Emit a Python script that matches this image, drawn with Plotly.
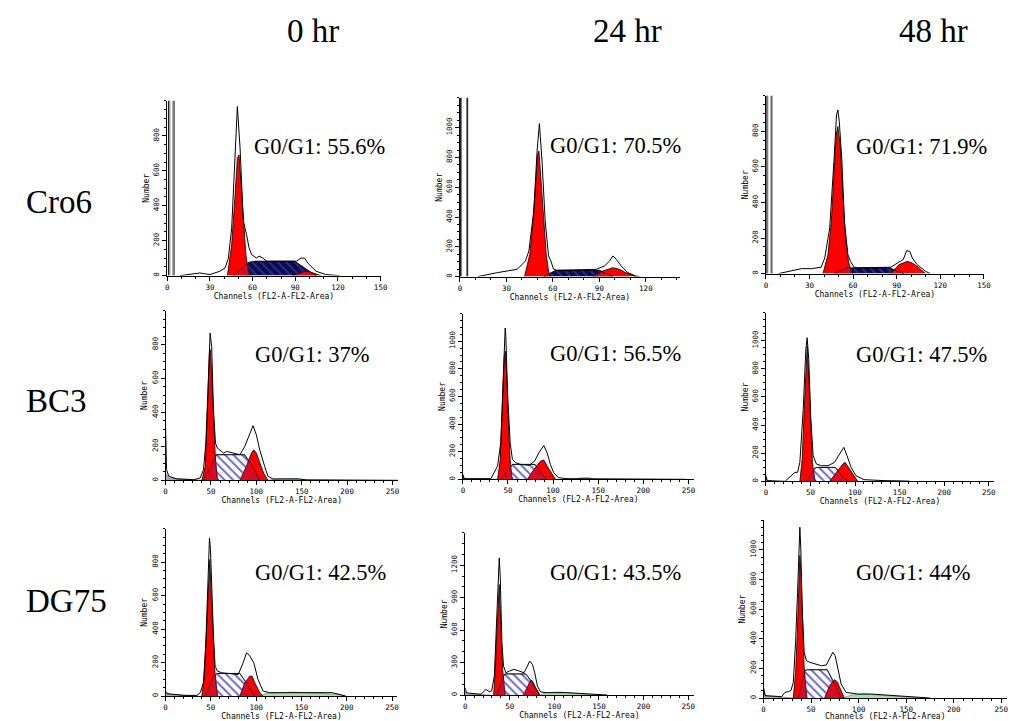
import plotly.graph_objects as go

# ------------------------------------------------------------------ labels
COL_LABELS = ["0 hr", "24 hr", "48 hr"]
ROW_LABELS = ["Cro6", "BC3", "DG75"]
G1_TEXT = ["G0/G1: 55.6%", "G0/G1: 70.5%", "G0/G1: 71.9%",
           "G0/G1: 37%", "G0/G1: 56.5%", "G0/G1: 47.5%",
           "G0/G1: 42.5%", "G0/G1: 43.5%", "G0/G1: 44%"]
X_TITLE = "Channels (FL2-A-FL2-Area)"
Y_TITLE = "Number"

# ------------------------------------------------------------------ data (channel, count)
# Cro6 0 hr
CRO6_0_RAW = [(9, 0), (18.6, 10), (23, 15), (30, 6), (37, 25), (40.7, 44), (43, 100), (45.3, 272), (47.7, 653),
              (48.8, 882), (49.3, 968), (51.2, 730), (53.5, 310), (55.8, 234), (57.5, 160), (59.3, 120), (62.8, 100),
              (64.5, 112), (67.4, 100), (70, 82), (79, 82), (90.7, 82), (94, 100), (96.5, 100), (98.8, 72),
              (104.6, 25), (111.6, 6), (121, 0)]
CRO6_0_G1 = [(42.3, 0), (45.3, 177), (47.7, 463), (49.3, 672), (50.5, 691), (52.3, 463), (54, 272), (55.3, 120),
             (57, 25), (58, 0)]
CRO6_0_S = [(46.5, 0), (52, 35), (57, 75), (62, 82), (89.5, 82), (96, 45), (103.5, 5), (105, 0)]
CRO6_0_G2 = [(88, 0), (92, 10), (97, 25), (100, 22), (104, 10), (108, 0)]
CRO6_0_BAR = [(1.0, 4.8), (1.8, 4.0)]

# Cro6 24 hr
CRO6_24_RAW = [(11.5, 0), (17.9, 16), (24.3, 27), (30.6, 38), (37, 49), (42.3, 105), (44.5, 172), (47.7, 440),
               (49.8, 843), (51.3, 1027), (53, 776), (55, 374), (57.2, 139), (58.7, 105), (60.4, 50), (62.5, 42),
               (77.4, 45), (88, 49), (93.4, 72), (96.6, 105), (98.7, 139), (100.9, 116), (104, 72), (108.3, 27),
               (113.6, 4), (116, 0)]
CRO6_24_G1 = [(41.7, 0), (45.1, 150), (47.2, 374), (48.9, 642), (50.2, 821), (51, 843), (52.3, 664), (54, 374),
              (55.7, 150), (57.2, 38), (58.3, 0)]
CRO6_24_S = [(54, 0), (60.4, 38), (62, 42), (90, 42), (94, 25), (98.7, 0)]
CRO6_24_G2 = [(86, 0), (92.3, 38), (98.7, 60), (103, 49), (107, 27), (113.6, 0)]
CRO6_24_BAR = [(0.3, 5.0), (1.0, 4.3)]

# Cro6 48 hr
CRO6_48_RAW = [(8.6, 0), (15.5, 13), (24.5, 28), (31.4, 28), (38, 36), (40.5, 88), (43.9, 257), (46.8, 631),
               (48.6, 893), (49.5, 921), (50.5, 856), (52.3, 631), (54, 294), (56.4, 107), (58.2, 69), (61, 32),
               (76.8, 32), (86, 36), (90.5, 60), (94.5, 79), (96.8, 129), (99, 125), (100.7, 88), (104, 51),
               (109.8, 13), (113, 0)]
CRO6_48_G1 = [(39.3, 0), (42.7, 107), (45, 294), (46.8, 537), (48.4, 781), (49.5, 828), (51.1, 725), (53, 444),
              (54.8, 200), (56.8, 69), (58.6, 13), (59.8, 0)]
CRO6_48_S = [(47.3, 0), (54, 28), (56, 32), (85, 32), (88, 22), (95, 0)]
CRO6_48_G2 = [(86, 0), (91.6, 51), (97.3, 69), (100.7, 60), (104, 41), (109.8, 0)]
CRO6_48_BAR = [(0.7, 4.1), (1.3, 3.5)]

# BC3 0 hr
BC3_0_RAW = [(0, 327), (0.5, 150), (1.1, 63), (3.6, 24), (12.7, 8), (31, 4), (38.2, 14), (41.8, 63), (44.4, 220),
             (46.6, 514), (48.4, 827), (49.1, 867), (50.8, 788), (52.8, 416), (55, 220), (57.1, 190), (61.9, 170),
             (64, 160), (67.3, 170), (74.6, 161), (81.9, 151), (87.3, 200), (92.8, 278), (96.4, 322), (100, 269),
             (103.7, 180), (109.2, 82), (112.8, 24), (118.3, 8), (147.4, 8), (154.7, 3), (256, 0)]
BC3_0_G1 = [(40, 0), (43.7, 82), (45.5, 318), (47.3, 612), (48.4, 759), (49.5, 769), (50.9, 612), (52.8, 337),
            (55, 122), (57.1, 14), (58.6, 0)]
BC3_0_S = [(41.8, 0), (50, 80), (56, 151), (87, 151), (95, 90), (103.7, 0)]
BC3_0_G2 = [(81.9, 0), (89, 82), (94.6, 161), (97.2, 180), (100, 161), (103.7, 102), (108, 43), (112.8, 0)]
BC3_0_DEB = [(0, 0), (0, 43), (3.6, 14), (27, 4), (40, 0)]
BC3_0_AGG = [(111, 0), (118, 6), (125.5, 10), (143.7, 10), (151, 4), (155, 0)]

# BC3 24 hr
BC3_24_RAW = [(0, 36), (1, 5), (31, 5), (34.8, 48), (38.5, 96), (42, 265), (44.7, 746), (46.5, 1083), (46.9, 1095),
              (47.6, 1035), (49.5, 626), (52.4, 265), (54.9, 144), (58.6, 120), (64, 108), (73.3, 101), (79.5, 132),
              (84.2, 192), (89.7, 245), (93.4, 192), (97, 108), (100.7, 48), (106, 12), (115.4, 5), (181, 5),
              (247, 0)]
BC3_24_G1 = [(38.5, 0), (41.4, 144), (43.6, 505), (45.8, 890), (47.3, 927), (48.7, 746), (50.5, 385), (52.4, 144),
             (54.2, 24), (55.3, 0)]
BC3_24_S = [(42, 0), (53, 96), (55, 108), (80, 108), (86, 48), (93.4, 0)]
BC3_24_G2 = [(71.4, 0), (78.8, 72), (86, 132), (89.7, 140), (93.4, 96), (99, 36), (102.6, 0)]
BC3_24_DEB = [(0, 0), (0, 30), (2, 8), (6, 0)]
BC3_24_AGG = [(125, 0), (130, 12), (141, 12), (145, 0)]

# BC3 48 hr
BC3_48_RAW = [(0, 40), (1.5, 5), (21.5, 0), (28.9, 40), (32.6, 64), (35.6, 64), (38.1, 135), (41.9, 513),
              (44.8, 939), (46.3, 1021), (48.1, 868), (50.4, 442), (53, 182), (56.7, 123), (62.2, 111), (69.6, 111),
              (77, 135), (82.6, 194), (87.4, 241), (91, 182), (95.6, 99), (101, 40), (110, 12), (132.6, 5),
              (162, 0)]
BC3_48_G1 = [(38.1, 0), (40.7, 158), (43, 513), (45.2, 867), (46.3, 962), (48.1, 749), (50, 395), (52.2, 135),
             (54.8, 17), (55.9, 0)]
BC3_48_S = [(45.5, 0), (54.8, 92), (57, 99), (78, 99), (84, 50), (91.8, 0)]
BC3_48_G2 = [(71.5, 0), (78.9, 64), (86.3, 123), (88.9, 135), (93.7, 87), (99.3, 28), (103, 0)]
BC3_48_DEB = [(0, 0), (0, 35), (1.5, 5), (10, 0)]
BC3_48_AGG = [(120, 0), (128, 5), (155, 5), (162, 0)]

# DG75 0 hr
DG75_0_RAW = [(0, 24), (1.8, 14), (20, 4), (34.6, 4), (38.3, 20), (41.9, 80), (44.5, 318), (46.3, 597), (47.8, 915),
              (48.5, 945), (49.6, 876), (51, 617), (52.9, 358), (54.7, 179), (57.3, 149), (62, 139), (71.1, 135),
              (80.2, 129), (85.7, 199), (89.4, 259), (93, 239), (97.4, 199), (102, 100), (107.6, 30), (114.9, 20),
              (133, 20), (144, 20), (155, 16), (169.6, 20), (184, 20), (191.5, 10), (198.8, 0)]
DG75_0_G1 = [(40.1, 0), (42.7, 119), (44.9, 358), (46.7, 617), (48.1, 796), (48.9, 816), (50.3, 617), (52.2, 358),
             (54.3, 159), (56.5, 40), (57.6, 0)]
DG75_0_S = [(43.8, 0), (53, 119), (57, 135), (82, 135), (89, 80), (98.5, 0)]
DG75_0_G2 = [(82, 0), (87.5, 80), (93, 119), (95.6, 119), (98.5, 80), (104, 20), (107.6, 0)]
DG75_0_DEB = [(0, 0), (0, 24), (5.5, 10), (20, 4), (36.5, 0)]
DG75_0_AGG = [(104, 0), (111, 16), (129.5, 20), (140, 24), (155, 20), (177, 16), (191.5, 10), (198.8, 0)]

# DG75 24 hr
DG75_24_RAW = [(0, 68), (1.5, 20), (17.8, 7), (23.4, 52), (27.1, 30), (29.7, 37), (32.7, 175), (34.9, 637),
               (37.1, 1160), (38.2, 1268), (39.3, 1098), (41.2, 483), (43, 268), (45.7, 206), (49.4, 222),
               (54.9, 237), (60.5, 222), (66, 206), (69.8, 268), (72.4, 314), (75.4, 283), (78, 206), (81, 83),
               (84.6, 28), (92, 22), (114, 22), (129, 15), (144, 6), (159, 0)]
DG75_24_G1 = [(31.9, 0), (33.8, 237), (35.3, 545), (36.7, 852), (38.2, 1021), (39.3, 791), (40.5, 483), (42, 237),
              (43.8, 83), (44.9, 0)]
DG75_24_S = [(35.6, 0), (43.8, 191), (46, 195), (68, 195), (75.4, 114), (82.8, 0)]
DG75_24_G2 = [(65.3, 0), (69.8, 83), (73.5, 138), (75.4, 130), (79, 68), (83.9, 0)]
DG75_24_DEB = [(0, 0), (0, 37), (3, 6), (29, 0)]
DG75_24_AGG = [(84.6, 0), (88, 15), (92, 22), (107, 28), (121.7, 15), (136.6, 6), (148, 0)]

# DG75 48 hr
DG75_48_RAW = [(0, 72), (1.7, 16), (19, 9), (22.6, 38), (26, 43), (28.8, 50), (31.3, 106), (33.7, 376), (35.8, 714),
               (37.5, 1052), (38.2, 1153), (39.2, 1007), (40.6, 601), (42.7, 309), (45.1, 252), (48.6, 241),
               (53.8, 230), (60.8, 218), (66, 223), (69.4, 264), (72.9, 309), (75.3, 286), (78, 196), (81.6, 95),
               (86.8, 38), (99, 27), (112.8, 27), (126.7, 20), (147.6, 11), (161.5, 5), (175, 0)]
DG75_48_G1 = [(31.3, 0), (33.7, 173), (35.4, 421), (36.8, 714), (38.2, 962), (39.6, 827), (41, 489), (42.7, 218),
              (44.4, 83), (45.8, 0)]
DG75_48_S = [(36.5, 0), (43.4, 185), (46, 191), (67, 191), (72.9, 117), (81.6, 0)]
DG75_48_G2 = [(64.2, 0), (69.4, 83), (74.7, 124), (77.4, 110), (81.6, 50), (85, 0)]
DG75_48_DEB = [(0, 0), (0, 60), (2.4, 16), (19, 9), (31.3, 0)]
DG75_48_AGG = [(83.3, 0), (92, 20), (106, 27), (119.8, 22), (137, 11), (154.5, 5), (165, 0)]

PANELS = [
    dict(raw=CRO6_0_RAW, g1=CRO6_0_G1, s=CRO6_0_S, g2=CRO6_0_G2, bar=CRO6_0_BAR),
    dict(raw=CRO6_24_RAW, g1=CRO6_24_G1, s=CRO6_24_S, g2=CRO6_24_G2, bar=CRO6_24_BAR),
    dict(raw=CRO6_48_RAW, g1=CRO6_48_G1, s=CRO6_48_S, g2=CRO6_48_G2, bar=CRO6_48_BAR),
    dict(raw=BC3_0_RAW, g1=BC3_0_G1, s=BC3_0_S, g2=BC3_0_G2, deb=BC3_0_DEB, agg=BC3_0_AGG),
    dict(raw=BC3_24_RAW, g1=BC3_24_G1, s=BC3_24_S, g2=BC3_24_G2, deb=BC3_24_DEB, agg=BC3_24_AGG),
    dict(raw=BC3_48_RAW, g1=BC3_48_G1, s=BC3_48_S, g2=BC3_48_G2, deb=BC3_48_DEB, agg=BC3_48_AGG),
    dict(raw=DG75_0_RAW, g1=DG75_0_G1, s=DG75_0_S, g2=DG75_0_G2, deb=DG75_0_DEB, agg=DG75_0_AGG),
    dict(raw=DG75_24_RAW, g1=DG75_24_G1, s=DG75_24_S, g2=DG75_24_G2, deb=DG75_24_DEB, agg=DG75_24_AGG),
    dict(raw=DG75_48_RAW, g1=DG75_48_G1, s=DG75_48_S, g2=DG75_48_G2, deb=DG75_48_DEB, agg=DG75_48_AGG),
]

# axis scales: x max channel, y max count, major tick steps
X_MAX = [150, 142, 150, 256, 256, 256, 256, 256, 256]
Y_MAX = [1000, 1200, 1000, 1000, 1200, 1200, 1000, 1500, 1200]
X_STEP = [30, 30, 30, 50, 50, 50, 50, 50, 50]
Y_STEP = [200, 200, 200, 200, 200, 200, 200, 300, 200]

# ------------------------------------------------------------------ layout (pixels)
W, H = 1018, 721
# (left px, right px, bottom px, top px) of each plotting area
BOXES = [
    (166.7, 382.0, 276, 101), (462.0, 684.0, 277, 98), (770.7, 990.7, 274, 96),
    (165.0, 399.5, 481, 311), (465.0, 698.0, 480, 314), (770.7, 1001.0, 482, 313),
    (165.0, 399.0, 697, 529.5), (467.3, 697.7, 696, 533.5), (768.3, 1014.0, 699, 521),
]
G1_POS = [(252, 147), (551, 146), (860, 147), (253, 355), (551, 354), (860, 355),
          (253, 573), (551, 573), (860, 573)]
COL_POS = [(314, 31), (631, 31), (940, 31)]
ROW_POS = [(22, 202), (22, 402), (22, 602)]

RED = "#ff0000"
NAVY = "#0e0e3c"
HATCH = "#3030d8"
DEBRIS = "#a4a6dc"
AGG = "#a6e0a6"

fig = go.Figure()


def xy(pts):
    return [p[0] for p in pts], [p[1] for p in pts]


def poly(pts, ax, fillcolor=None, pattern=None, lw=0.8, lc="black"):
    x, y = xy(pts)
    kw = dict(x=x, y=y, mode="lines", fill="toself", line=dict(color=lc, width=lw),
              hoverinfo="skip", showlegend=False, xaxis="x" + ax, yaxis="y" + ax)
    if pattern is not None:
        kw["fillpattern"] = pattern
        kw["fillcolor"] = "rgba(0,0,0,0)"
    else:
        kw["fillcolor"] = fillcolor
    fig.add_trace(go.Scatter(**kw))


for i, p in enumerate(PANELS):
    ax = "" if i == 0 else str(i + 1)
    dark = i < 3
    if "deb" in p:
        poly(p["deb"], ax, DEBRIS, lw=0.6, lc="#606080")
    if "agg" in p:
        poly(p["agg"], ax, AGG, lw=0.6, lc="#608060")
    # S phase base
    poly(p["s"], ax, pattern=dict(shape="\\", fgcolor=HATCH, bgcolor=NAVY if dark else "white",
                                  size=6, solidity=0.3), lw=0.8)
    poly(p["g1"], ax, RED, lw=0.8)
    poly(p["g2"], ax, RED, lw=0.8)
    # hatch of S phase over the peaks
    poly(p["s"], ax, pattern=dict(shape="\\", fgcolor=HATCH, size=6, solidity=0.3), lw=0.6)
    rx, ry = xy(p["raw"])
    fig.add_trace(go.Scatter(x=rx, y=ry, mode="lines", line=dict(color="black", width=1),
                             hoverinfo="skip", showlegend=False, xaxis="x" + ax, yaxis="y" + ax))
    if "bar" in p:
        top = Y_MAX[i] * 1.2
        for (a, b), col in zip(p["bar"], ["black", "#777777"]):
            fig.add_trace(go.Scatter(x=[a, a, b, b], y=[0, top, top, 0], mode="lines",
                                     line=dict(color=col, width=1), hoverinfo="skip",
                                     showlegend=False, xaxis="x" + ax, yaxis="y" + ax))

tick_font = dict(family="DejaVu Sans Mono", size=7.5, color="black")
title_font = dict(family="DejaVu Sans Mono", size=8, color="black")
layout = dict(width=W, height=H, margin=dict(l=0, r=0, t=0, b=0),
              paper_bgcolor="white", plot_bgcolor="white", showlegend=False)

for i, (l, r, b, t) in enumerate(BOXES):
    n = "" if i == 0 else str(i + 1)
    xs, ys = X_STEP[i], Y_STEP[i]
    xticks = list(range(0, X_MAX[i] + 1, xs))
    yticks = [v for v in range(0, Y_MAX[i], ys)]
    layout["xaxis" + n] = dict(
        domain=[l / W, min(r / W, 1.0)], range=[0, X_MAX[i]], anchor="y" + n,
        showline=True, linecolor="black", linewidth=1, mirror=False,
        ticks="outside", ticklen=4, tickwidth=1, tickcolor="black",
        tickmode="array", tickvals=xticks, ticktext=[str(v) for v in xticks],
        tickfont=tick_font, showgrid=False, zeroline=False, fixedrange=True,
        minor=dict(ticks="outside", ticklen=2, tickcolor="black", tickmode="linear",
                   tick0=0, dtick=10, showgrid=False),
        title=dict(text=X_TITLE, font=title_font, standoff=1),
    )
    layout["yaxis" + n] = dict(
        domain=[1 - b / H, 1 - t / H], range=[0, Y_MAX[i]], anchor="x" + n,
        showline=True, linecolor="black", linewidth=1,
        ticks="outside", ticklen=4, tickwidth=1, tickcolor="black",
        tickmode="array", tickvals=yticks, ticktext=[str(v) for v in yticks],
        tickangle=-90, tickfont=tick_font, showgrid=False, zeroline=False, fixedrange=True,
        minor=dict(ticks="outside", ticklen=2, tickcolor="black", tickmode="linear",
                   tick0=0, dtick=ys / 4 if ys == 200 else 100, showgrid=False),
        title=dict(text=Y_TITLE, font=title_font, standoff=1),
    )

ann = []
serif = "Liberation Serif"
for txt, (px, py) in zip(COL_LABELS, COL_POS):
    ann.append(dict(text=txt, x=px / W, y=1 - py / H, xref="paper", yref="paper", showarrow=False,
                    xanchor="center", yanchor="middle", font=dict(family=serif, size=33, color="black")))
for txt, (px, py) in zip(ROW_LABELS, ROW_POS):
    ann.append(dict(text=txt, x=px / W, y=1 - py / H, xref="paper", yref="paper", showarrow=False,
                    xanchor="left", yanchor="middle", font=dict(family=serif, size=33, color="black")))
for txt, (px, py) in zip(G1_TEXT, G1_POS):
    ann.append(dict(text=txt, x=px / W, y=1 - py / H, xref="paper", yref="paper", showarrow=False,
                    xanchor="left", yanchor="middle", font=dict(family=serif, size=22.5, color="black")))
layout["annotations"] = ann

fig.update_layout(**layout)
fig.write_html("out.html", config={"displayModeBar": False},
               post_script="document.body.style.margin='0px';document.body.style.overflow='hidden';")
